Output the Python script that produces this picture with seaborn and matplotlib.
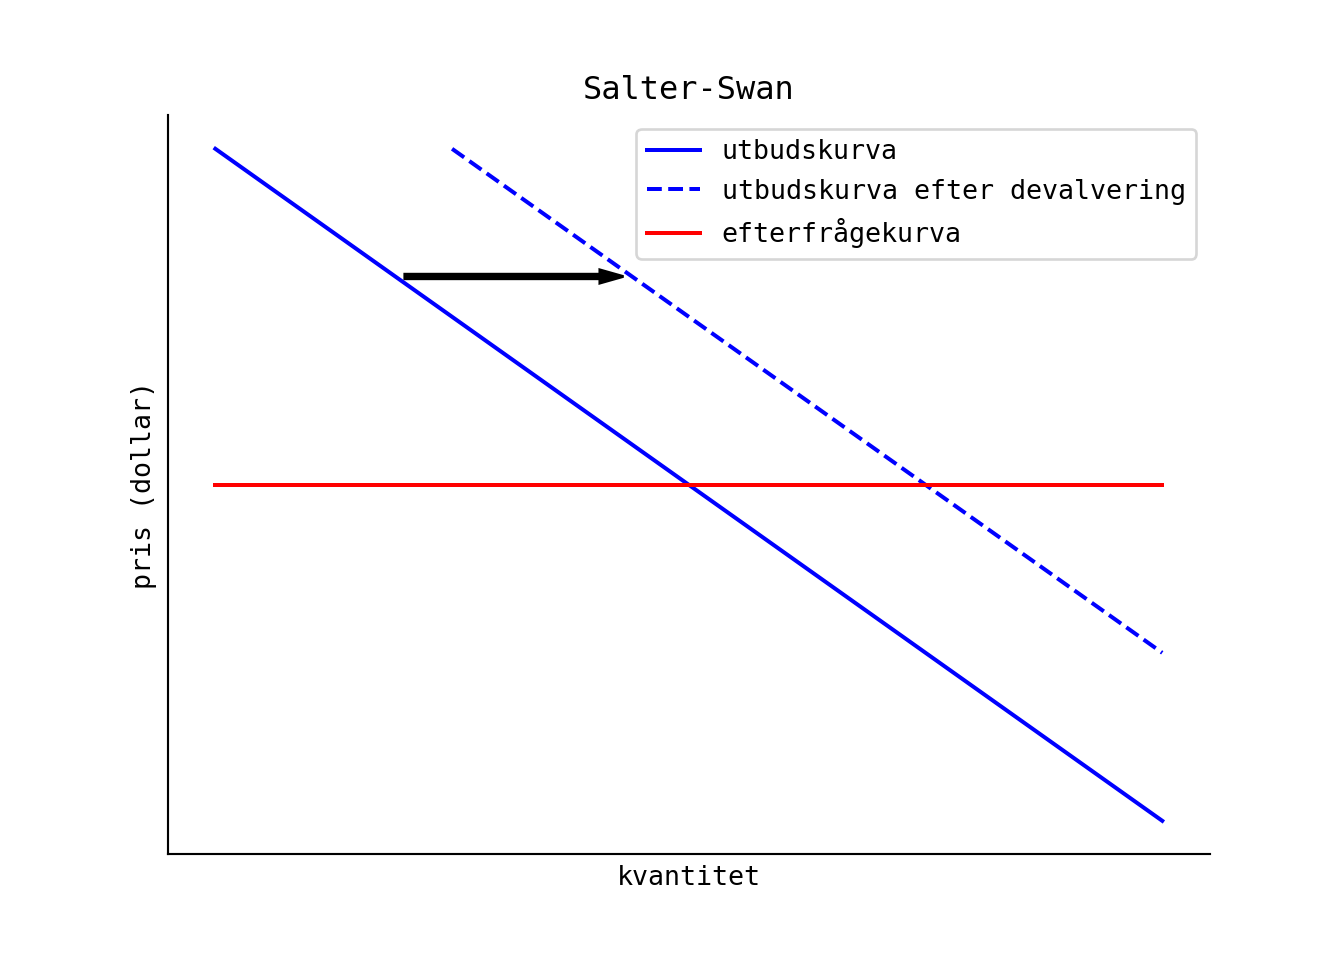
import matplotlib
matplotlib.use("Agg")
import matplotlib.pyplot as plt
import seaborn as sns

# -------------------- Data --------------------
# quantity / price points
q_supply = [0, 10]
p_supply = [10, 0]

q_supply_dev = [2.5, 10]
p_supply_dev = [10, 2.5]

q_demand = [0, 10]
p_demand = [5, 5]

# shift arrow: start point and length
arrow_start = (2, 8.1)
arrow_dx = 2.06

# -------------------- Plot --------------------
plt.rcParams['font.family'] = ['DejaVu Sans Mono', 'DejaVu Sans']

fig, ax = plt.subplots(figsize=(7, 5), dpi=192)

sns.lineplot(x=q_supply, y=p_supply, color='b', label='utbudskurva', ax=ax)
sns.lineplot(x=q_supply_dev, y=p_supply_dev, color='b', linestyle='--',
             label='utbudskurva efter devalvering', ax=ax)
sns.lineplot(x=q_demand, y=p_demand, color='r', label='efterfrågekurva', ax=ax)

ax.arrow(arrow_start[0], arrow_start[1], arrow_dx, 0, width=0.07,
         head_width=0.2, head_length=0.25, color='black')

ax.set_title('Salter-Swan')
ax.set_xlabel('kvantitet')
ax.set_ylabel('pris (dollar)')
ax.set_xticks([])
ax.set_yticks([])
sns.despine(ax=ax)
ax.legend(loc='upper right')

plt.savefig('out.png')
